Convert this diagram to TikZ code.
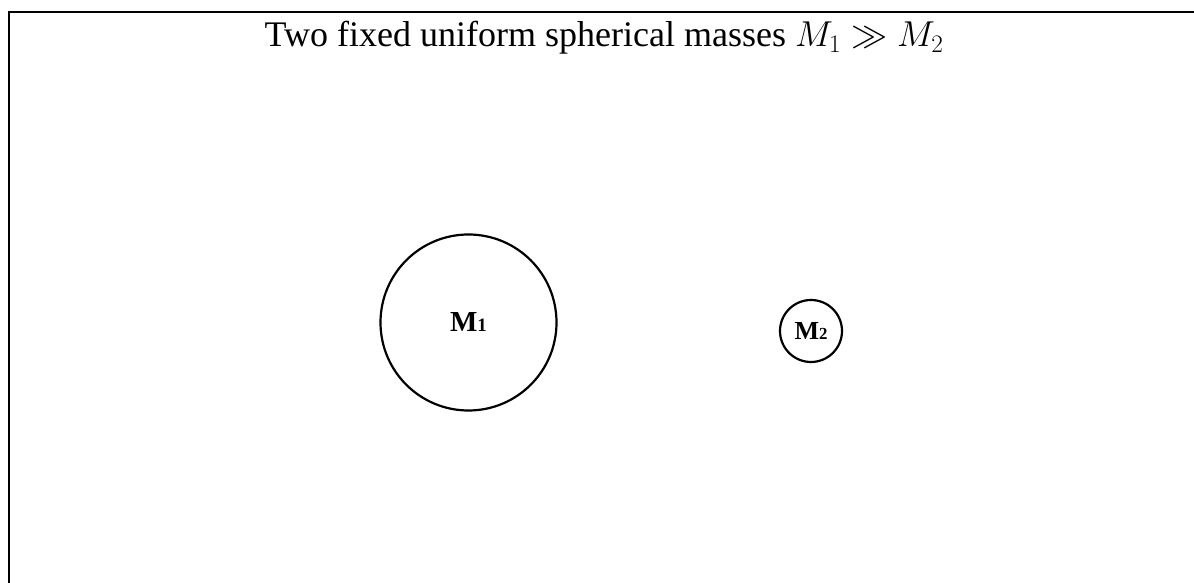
\RequirePackage{fix-cm}
\documentclass[tikz,border=0pt]{standalone}
\usepackage{fontspec}
\setmainfont{Liberation Serif}
\usepackage{tikz}
\usetikzlibrary{positioning}
\tikzset{
  massball/.style={draw, circle, line width=2.2pt, inner sep=0pt,
    font=\bfseries},
  framepen/.style={line width=2pt},
}
\newcommand{\masslabel}[3]{{\fontsize{#3}{#3}\selectfont\textbf{#1}{\fontsize{0.65\dimexpr#3\relax}{#3}\selectfont\textbf{#2}}}}

\begin{document}
\begin{tikzpicture}[x=1pt, y=1pt]
  \useasboundingbox (0,0) rectangle (1194,583);
  \begin{scope}
    \clip (0,0) rectangle (1194,583);
    % open frame
    \draw[framepen] (9,-5) |- (1200,571);
  \end{scope}

  % title
  \node[anchor=base, inner sep=0pt, font=\fontsize{36}{40}\selectfont] (title)
    at (604,536) {Two fixed uniform spherical masses \(M_1 \gg M_2\)};

  % masses
  \node[massball, minimum size=176pt] (m1) at (468.5,260.5)
    {\masslabel{M}{1}{29pt}};
  \node[massball, minimum size=62pt] (m2) at (811,252)
    {\masslabel{M}{2}{26pt}};
\end{tikzpicture}
\end{document}
